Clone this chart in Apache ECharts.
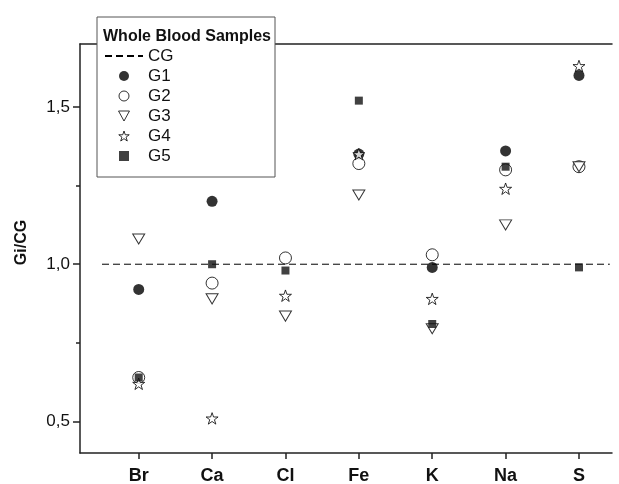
<!DOCTYPE html>
<html>
<head>
<meta charset="utf-8">
<script src="https://cdn.jsdelivr.net/npm/echarts@6/dist/echarts.min.js"></script>
<style>
  html, body { margin: 0; padding: 0; background: #fff; }
  #chart { width: 619px; height: 484px; }
</style>
</head>
<body>
<div id="chart"></div>
<script>
// elements on the x axis
const categories = ["Br", "Ca", "Cl", "Fe", "K", "Na", "S"];
const xPos = [1, 2, 3, 4, 5, 6, 7];

// Gi/CG ratios (null = not plotted)
const g1 = [0.92, 1.20, null, 1.35, 0.99, 1.36, 1.60];
const g2 = [0.64, 0.94, 1.02, 1.32, 1.03, 1.30, 1.31];
const g3 = [1.08, 0.89, 0.835, 1.22, 0.795, 1.125, 1.31];
const g4 = [0.62, 0.51, 0.90, 1.35, 0.89, 1.24, 1.63];
const g5 = [0.64, 1.00, 0.98, 1.52, 0.81, 1.31, 0.99];

// control group reference line
const cgX = [0.5, 7.42];
const cgY = [1, 1];

const yLabels = [0.5, 1.0, 1.5];
const yMinor = [0.75, 1.25];

const star = "path://M50,2 L61.5,36 L97,36 L68.5,57.5 L79.5,92 L50,71 L20.5,92 L31.5,57.5 L3,36 L38.5,36 Z";
const triDown = "path://M0,0 L12,0 L6,11 Z";
const square = "path://M0,0 L10,0 L10,10 L0,10 Z";

const pts = (arr) => arr.map((v, i) => (v == null ? null : [xPos[i], v])).filter((p) => p);

const open = { color: "#fff", borderColor: "#000", borderWidth: 1 };

const chart = echarts.init(document.querySelector("#chart"));

chart.setOption({
  animation: false,
  backgroundColor: "#fff",
  grid: { left: 80, right: 7, top: 44, bottom: 31, outerBoundsMode: "none" },
  title: {
    text: "Whole Blood Samples",
    left: 98,
    top: 24,
    z: 10,
    textStyle: { fontFamily: "Liberation Sans", fontSize: 16, fontWeight: "bold", color: "#111" },
  },
  legend: {
    orient: "vertical",
    left: 99,
    top: 41,
    z: 10,
    itemWidth: 38,
    itemHeight: 10,
    itemGap: 0,
    itemStyle: { borderWidth: 1 },
    textStyle: { fontFamily: "Liberation Sans", fontSize: 17, color: "#111", lineHeight: 20 },
    data: [
      { name: "CG", itemStyle: { opacity: 0 } },
      "G1", "G2", "G3", "G4",
      { name: "G5", itemStyle: { borderWidth: 0 } },
    ],
  },
  graphic: [
    {
      type: "rect",
      z: 5,
      shape: { x: 97, y: 17, width: 178, height: 160 },
      style: { fill: "#fff", stroke: "#555", lineWidth: 1 },
    },
  ],
  xAxis: [
    {
      type: "value",
      min: 0.2,
      max: 7.45,
      splitLine: { show: false },
      axisLine: { lineStyle: { color: "#222", width: 1.5 } },
      axisTick: { customValues: xPos, length: 6, lineStyle: { color: "#222", width: 1.5 } },
      axisLabel: {
        customValues: xPos,
        margin: 14,
        formatter: (v) => categories[Math.round(v) - 1] || "",
        fontFamily: "Liberation Sans",
        fontSize: 18,
        fontWeight: "bold",
        color: "#111",
      },
    },
    {
      type: "value",
      position: "top",
      min: 0.2,
      max: 7.45,
      splitLine: { show: false },
      axisLine: { show: true, lineStyle: { color: "#222", width: 1.5 } },
      axisTick: { show: false },
      axisLabel: { show: false },
    },
  ],
  yAxis: [
    {
      type: "value",
      min: 0.4,
      max: 1.7,
      name: "Gi/CG",
      nameLocation: "middle",
      nameGap: 50,
      nameTextStyle: { fontFamily: "Liberation Sans", fontSize: 16, fontWeight: "bold", color: "#111", padding: [0, 0, 0, 12] },
      splitLine: { show: false },
      axisLine: { show: true, lineStyle: { color: "#222", width: 1.5 } },
      axisTick: { customValues: yLabels, length: 7, lineStyle: { color: "#222", width: 1.5 } },
      axisLabel: {
        customValues: yLabels,
        margin: 10,
        formatter: (v) => v.toFixed(1).replace(".", ","),
        fontFamily: "Liberation Sans",
        fontSize: 17,
        color: "#111",
      },
    },
    {
      type: "value",
      min: 0.4,
      max: 1.7,
      position: "left",
      splitLine: { show: false },
      axisLine: { show: false },
      axisTick: { customValues: yMinor, length: 4, lineStyle: { color: "#222", width: 1.5 } },
      axisLabel: { show: false },
    },
  ],
  series: [
    {
      name: "CG",
      type: "line",
      symbol: "none",
      data: cgX.map((x, i) => [x, cgY[i]]),
      lineStyle: { color: "#000", width: 1, type: [7, 4] },
      itemStyle: { color: "#000" },
      z: 1,
    },
    {
      name: "G1",
      type: "scatter",
      symbol: "circle",
      symbolSize: 11,
      data: pts(g1),
      itemStyle: { color: "#000" },
    },
    {
      name: "G2",
      type: "scatter",
      symbol: "circle",
      symbolSize: 12,
      data: pts(g2),
      itemStyle: open,
    },
    {
      name: "G3",
      type: "scatter",
      symbol: triDown,
      symbolKeepAspect: true,
      symbolSize: [12, 11],
      data: pts(g3),
      itemStyle: open,
    },
    {
      name: "G4",
      type: "scatter",
      symbol: star,
      symbolKeepAspect: true,
      symbolSize: 12,
      data: pts(g4),
      itemStyle: open,
    },
    {
      name: "G5",
      type: "scatter",
      symbol: square,
      symbolKeepAspect: true,
      symbolSize: 8,
      data: pts(g5),
      itemStyle: { color: "#111" },
    },
  ],
});
</script>
</body>
</html>
